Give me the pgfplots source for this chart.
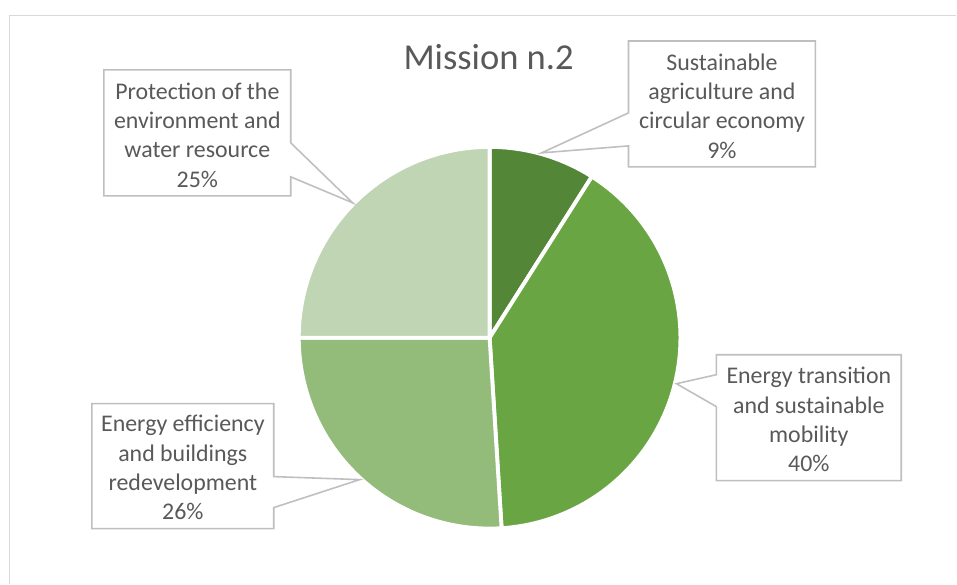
\documentclass[border=0pt]{standalone}
\usepackage{pgfplots}
\pgfplotsset{compat=1.18}
\usepackage{fontspec}
\setmainfont{Carlito}
\definecolor{txt}{HTML}{595959}
\definecolor{boxc}{HTML}{BFBFBF}
\definecolor{frame}{HTML}{D9D9D9}
\definecolor{sA}{HTML}{548638}
\definecolor{sB}{HTML}{6AA543}
\definecolor{sC}{HTML}{93BC7B}
\definecolor{sD}{HTML}{BFD5B4}
\tikzset{
  lbl/.style={font=\fontsize{6.8}{8.35}\selectfont, text=txt, align=center, inner sep=0pt},
  box/.style={draw=boxc, line width=0.45pt, fill=white, mark=none},
}
\begin{document}
\begin{tikzpicture}
\begin{axis}[
  width=9.57cm, height=5.84cm, scale only axis,
  xmin=0, xmax=957, ymin=0, ymax=584, y dir=reverse,
  axis line style={draw=none}, ticks=none, clip=false,
]
% chart frame
\addplot[draw=frame, line width=0.45pt, mark=none] coordinates {(9.5,584) (9.5,15.5) (957,15.5)};
% pie: shares 9, 40, 26, 25 (%), clockwise from 12 o'clock; centre (490,338), radius 191
% 9%  -> 90 .. 57.6 deg
\addplot[fill=sA, draw=white, line width=1.1pt, domain=57.6:90, samples=40, variable=\t]
  ({490+191*cos(\t)}, {338-191*sin(\t)}) -- (axis cs:490,338) -- cycle;
% 40% -> 57.6 .. -86.4 deg
\addplot[fill=sB, draw=white, line width=1.1pt, domain=-86.4:57.6, samples=120, variable=\t]
  ({490+191*cos(\t)}, {338-191*sin(\t)}) -- (axis cs:490,338) -- cycle;
% 26% -> -86.4 .. -180 deg
\addplot[fill=sC, draw=white, line width=1.1pt, domain=-180:-86.4, samples=80, variable=\t]
  ({490+191*cos(\t)}, {338-191*sin(\t)}) -- (axis cs:490,338) -- cycle;
% 25% -> -180 .. -270 deg
\addplot[fill=sD, draw=white, line width=1.1pt, domain=-270:-180, samples=80, variable=\t]
  ({490+191*cos(\t)}, {338-191*sin(\t)}) -- (axis cs:490,338) -- cycle;
% callouts
\addplot[box] coordinates {(104,70) (291,70) (291,143) (353,203) (291,177) (291,196) (104,196)} -- cycle;
\addplot[box] coordinates {(629,41) (816,41) (816,167) (629,167) (629,146) (542,153) (629,113)} -- cycle;
\addplot[box] coordinates {(717,355) (902,355) (902,481) (717,481) (717,407) (677,384) (717,375)} -- cycle;
\addplot[box] coordinates {(92,404) (274,404) (274,477) (360,480) (274,508) (274,529) (92,529)} -- cycle;
\node[lbl] at (axis cs:197.5,135) {Protection of the\\environment and\\water resource\\25\%};
\node[lbl] at (axis cs:722.5,106) {Sustainable\\agriculture and\\circular economy\\9\%};
\node[lbl] at (axis cs:809.5,420) {Energy transition\\and sustainable\\mobility\\40\%};
\node[lbl] at (axis cs:183,468) {Energy efficiency\\and buildings\\redevelopment\\26\%};
% title
\node[font=\fontsize{10.4}{12}\selectfont, text=txt, anchor=base, inner sep=0pt] at (axis cs:489,70) {Mission n.2};
\end{axis}
\end{tikzpicture}
\end{document}
